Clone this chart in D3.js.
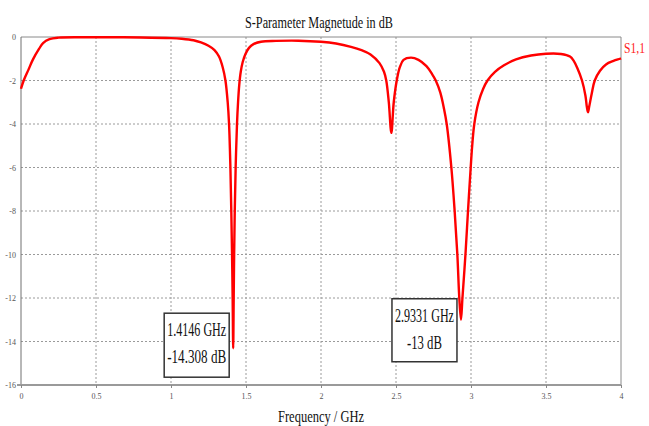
<!DOCTYPE html>
<html>
<head>
<meta charset="utf-8">
<script src="https://cdn.jsdelivr.net/npm/d3@7"></script>
<style>
  body { margin: 0; background: #fff; }
  svg { display: block; font-family: "Liberation Serif", "Times New Roman", serif; }
</style>
</head>
<body>
<div id="root"></div>
<script>
// S1,1 trace, frequency in GHz and magnitude in dB
const freq = [0, 0.018, 0.05, 0.08, 0.12, 0.147, 0.19, 0.25, 0.4, 0.6, 0.8, 1.0, 1.07, 1.15, 1.2, 1.25, 1.29, 1.32,
  1.345, 1.363, 1.378, 1.387, 1.396, 1.402, 1.407, 1.411, 1.4146, 1.418, 1.421, 1.425, 1.431, 1.44, 1.447, 1.455,
  1.465, 1.478, 1.495, 1.52, 1.55, 1.6, 1.7, 1.85, 2.0, 2.1, 2.2, 2.27, 2.33, 2.39, 2.42, 2.435, 2.452, 2.469, 2.485,
  2.505, 2.525, 2.55, 2.6, 2.65, 2.703, 2.74, 2.765, 2.795, 2.82, 2.838, 2.869, 2.891, 2.909, 2.922, 2.9331, 2.943,
  2.963, 2.98, 2.998, 3.008, 3.022, 3.05, 3.08, 3.11, 3.16, 3.22, 3.3, 3.4, 3.5, 3.6, 3.66, 3.685, 3.71, 3.74, 3.763,
  3.772, 3.78, 3.788, 3.805, 3.825, 3.86, 3.9, 3.95, 3.993, 4.0];
const s11 = [-2.38, -2.0, -1.5, -1.03, -0.55, -0.28, -0.1, -0.03, -0.01, -0.01, -0.02, -0.05, -0.08, -0.15, -0.25, -0.4, -0.6, -0.9,
  -1.4, -2.0, -3.0, -4.0, -6.0, -8.0, -10.0, -12.0, -14.308, -12.0, -10.0, -8.0, -6.0, -4.0, -3.0, -2.2,
  -1.6, -1.15, -0.8, -0.5, -0.33, -0.22, -0.18, -0.17, -0.22, -0.3, -0.45, -0.6, -0.8, -1.2, -1.6, -2.0, -3.0, -4.41, -3.0,
  -2.0, -1.4, -1.05, -0.95, -1.05, -1.34, -1.7, -2.0, -2.55, -3.3, -4.0, -6.0, -8.0, -10.0, -12.0, -13.0, -12.0,
  -10.0, -8.0, -6.0, -5.0, -4.0, -3.0, -2.4, -2.0, -1.6, -1.3, -1.03, -0.85, -0.77, -0.78, -0.9, -1.1, -1.45, -2.0, -2.7,
  -3.2, -3.46, -3.2, -2.6, -2.0, -1.55, -1.26, -1.1, -1.0, -0.98];

const xTicks = [0, 0.5, 1, 1.5, 2, 2.5, 3, 3.5, 4];
const yTicks = [0, -2, -4, -6, -8, -10, -12, -14, -16];

const markerFreq = [1.4146, 2.9331];
const markerDb = [-14.308, -13];
const markerText = [["1.4146 GHz", "-14.308 dB"], ["2.9331 GHz", "-13 dB"]];

const width = 649, height = 426;
const margin = { top: 37, right: 28, bottom: 41, left: 21 };
const innerW = width - margin.left - margin.right;
const innerH = height - margin.top - margin.bottom;

const svg = d3.select("#root").append("svg")
  .attr("width", width)
  .attr("height", height);

const x = d3.scaleLinear().domain([0, 4]).range([margin.left, margin.left + innerW]);
const y = d3.scaleLinear().domain([-16, 0]).range([margin.top + innerH, margin.top]);

// grid
svg.append("g")
  .selectAll("line")
  .data(xTicks.slice(1, -1))
  .join("line")
  .attr("x1", d => x(d)).attr("x2", d => x(d))
  .attr("y1", y(0)).attr("y2", y(-16))
  .attr("stroke", "#9a9a9a")
  .attr("stroke-dasharray", "2,2");
svg.append("g")
  .selectAll("line")
  .data(yTicks.slice(1, -1))
  .join("line")
  .attr("x1", x(0)).attr("x2", x(4))
  .attr("y1", d => y(d)).attr("y2", d => y(d))
  .attr("stroke", "#9a9a9a")
  .attr("stroke-dasharray", "2,2");

// frame
svg.append("line").attr("x1", x(0)).attr("x2", x(4)).attr("y1", y(0)).attr("y2", y(0)).attr("stroke", "#8a8a8a");
svg.append("line").attr("x1", x(4)).attr("x2", x(4)).attr("y1", y(0)).attr("y2", y(-16)).attr("stroke", "#8a8a8a");
svg.append("line").attr("x1", x(0)).attr("x2", x(0)).attr("y1", y(0)).attr("y2", y(-16)).attr("stroke", "#707070");
svg.append("line").attr("x1", x(0) - 4).attr("x2", x(4)).attr("y1", y(-16)).attr("y2", y(-16))
  .attr("stroke", "#9a9a9a").attr("stroke-width", 2);

// axes
const xAxis = svg.append("g")
  .attr("transform", `translate(0,${y(-16)})`)
  .call(d3.axisBottom(x).tickValues(xTicks).tickSize(3).tickPadding(5).tickFormat(d => String(d)));
xAxis.select(".domain").remove();
xAxis.selectAll("line").attr("stroke", "#888");
xAxis.selectAll("text").attr("font-family", "Liberation Serif").attr("font-size", 8).attr("fill", "#555");

const yAxis = svg.append("g")
  .attr("transform", `translate(${x(0)},0)`)
  .call(d3.axisLeft(y).tickValues(yTicks).tickSize(0).tickPadding(5).tickFormat(d => String(d)));
yAxis.select(".domain").remove();
yAxis.selectAll("text").attr("font-family", "Liberation Serif").attr("font-size", 8).attr("fill", "#555");

// curve
const points = freq.map((f, i) => [f, s11[i]]);
svg.append("path")
  .datum(points)
  .attr("fill", "none")
  .attr("stroke", "#ff0000")
  .attr("stroke-width", 2.4)
  .attr("stroke-linejoin", "round")
  .attr("d", d3.line().x(d => x(d[0])).y(d => y(d[1])).curve(d3.curveCatmullRom.alpha(0.5)));

// titles
svg.append("text")
  .attr("x", 319).attr("y", 28)
  .attr("text-anchor", "middle")
  .attr("font-size", 17)
  .attr("textLength", 148).attr("lengthAdjust", "spacingAndGlyphs")
  .attr("fill", "#111")
  .text("S-Parameter Magnetude in dB");

svg.append("text")
  .attr("x", 321).attr("y", 422)
  .attr("text-anchor", "middle")
  .attr("font-size", 16)
  .attr("textLength", 86).attr("lengthAdjust", "spacingAndGlyphs")
  .attr("fill", "#111")
  .text("Frequency / GHz");

svg.append("text")
  .attr("x", x(4) + 3).attr("y", 53)
  .attr("font-size", 14)
  .attr("textLength", 21).attr("lengthAdjust", "spacingAndGlyphs")
  .attr("fill", "#ff2020")
  .text("S1,1");

// marker boxes, placed left of each marker point
const boxW = 65;
const boxTop = [-35, -21];
const boxH = [64, 63];
markerFreq.forEach((f, i) => {
  const mx = x(f), my = y(markerDb[i]);
  const left = mx - 4 - boxW, top = my + boxTop[i];
  const g = svg.append("g");
  g.append("rect")
    .attr("x", left).attr("y", top)
    .attr("width", boxW).attr("height", boxH[i])
    .attr("fill", "#fff")
    .attr("stroke", "#333")
    .attr("stroke-width", 1.5);
  markerText[i].forEach((t, j) => {
    const w = t.length > 7 ? 59 : 35;
    g.append("text")
      .attr("x", left + boxW / 2).attr("y", top + 23 + j * 27)
      .attr("text-anchor", "middle")
      .attr("font-size", 18)
      .attr("textLength", w).attr("lengthAdjust", "spacingAndGlyphs")
      .attr("fill", "#111")
      .text(t);
  });
});
</script>
</body>
</html>
